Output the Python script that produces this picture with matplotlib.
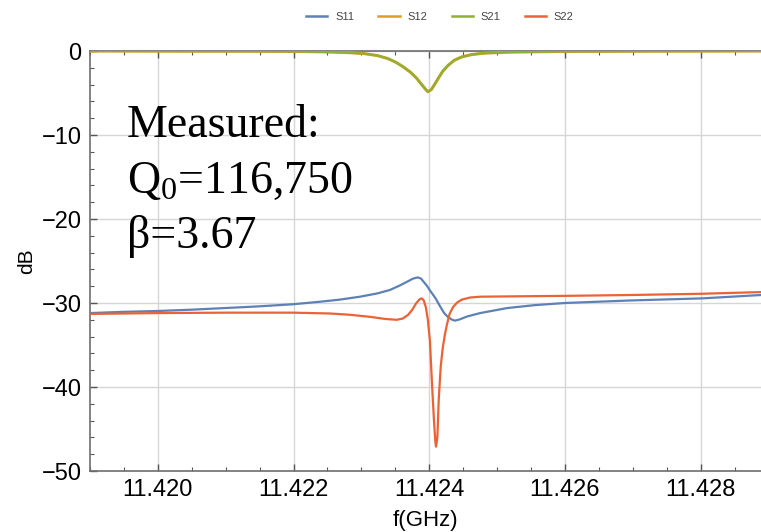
import matplotlib
matplotlib.use("Agg")
import matplotlib.pyplot as plt
from matplotlib.ticker import MultipleLocator, FuncFormatter
from matplotlib.lines import Line2D

plt.rcParams['font.family'] = ['Liberation Sans', 'DejaVu Sans']
plt.rcParams['mathtext.fontset'] = 'custom'
plt.rcParams['mathtext.rm'] = 'Liberation Serif'
plt.rcParams['mathtext.it'] = 'Liberation Serif:italic'

# Frequency sweep (GHz) and measured S-parameters (dB)
s11_f = [11.41900, 11.41950, 11.42000, 11.42049, 11.42099, 11.42149, 11.42199,
         11.42239, 11.42268, 11.42298, 11.42324, 11.42342, 11.42357, 11.42369,
         11.42376, 11.42383, 11.42388, 11.42392, 11.42397, 11.42401, 11.42409,
         11.42416, 11.42422, 11.42428, 11.42434, 11.42438, 11.42445, 11.42456,
         11.42475, 11.42515, 11.42556, 11.42600, 11.42696, 11.42802, 11.42889]
s11_db = [-31.2, -31.05, -30.95, -30.8, -30.6, -30.4, -30.15,
          -29.85, -29.6, -29.25, -28.85, -28.45, -27.9, -27.4,
          -27.1, -26.95, -27.1, -27.5, -28.0, -28.5, -29.4,
          -30.4, -31.2, -31.7, -32.0, -32.1, -31.95, -31.6,
          -31.2, -30.6, -30.25, -30.0, -29.7, -29.45, -29.05]

s21_f = [11.41900, 11.42136, 11.42209, 11.42254, 11.42283, 11.42305, 11.42324,
         11.42339, 11.42351, 11.42361, 11.42372, 11.42381, 11.42388, 11.42394,
         11.42398, 11.42403, 11.42407, 11.42413, 11.42420, 11.42428, 11.42437,
         11.42448, 11.42463, 11.42482, 11.42519, 11.42593, 11.42726, 11.42889]
s21_db = [0.0, -0.03, -0.06, -0.12, -0.2, -0.32, -0.55,
          -0.9, -1.35, -1.85, -2.5, -3.2, -3.9, -4.5,
          -4.85, -4.6, -4.1, -3.3, -2.4, -1.7, -1.1,
          -0.7, -0.42, -0.25, -0.13, -0.06, -0.02, 0.0]

s12_f = list(s21_f)
s12_db = list(s21_db)

s22_f = [11.41900, 11.42000, 11.42099, 11.42199, 11.42254, 11.42283, 11.42313,
         11.42335, 11.42352, 11.42361, 11.42369, 11.42375, 11.42381, 11.42386,
         11.42389, 11.42392, 11.42395, 11.42398, 11.42401, 11.42404, 11.42407,
         11.42409, 11.42410, 11.42412, 11.42414, 11.42417, 11.42420, 11.42423,
         11.42426, 11.42430, 11.42435, 11.42441, 11.42448, 11.42460, 11.42475,
         11.42534, 11.42600, 11.42696, 11.42802, 11.42889]
s22_db = [-31.3, -31.2, -31.15, -31.15, -31.25, -31.4, -31.65,
          -31.9, -32.0, -31.85, -31.4, -30.8, -30.0, -29.55,
          -29.45, -29.7, -30.5, -32.0, -34.5, -39.5, -44.0,
          -46.5, -47.1, -46.0, -41.5, -37.5, -35.3, -33.8,
          -32.6, -31.3, -30.5, -29.95, -29.6, -29.35, -29.25,
          -29.2, -29.15, -29.05, -28.9, -28.7]

labels = ['S11', 'S12', 'S21', 'S22']
colors = ['#5E81B5', '#E19C24', '#8FB032', '#EB6235']

fig = plt.figure(figsize=(7.61, 5.32), dpi=100)
ax = fig.add_axes([90/761, 1-471/532, 1-90/761, (471-51)/532])

lw = 1.6
ax.plot(s11_f, s11_db, color=colors[0], lw=lw, zorder=3, solid_joinstyle='round')
ax.plot(s12_f, s12_db, color=colors[1], lw=lw + 0.6, zorder=3, solid_joinstyle='round')
ax.plot(s21_f, s21_db, color=colors[2], lw=lw, zorder=4, solid_joinstyle='round')
ax.plot(s22_f, s22_db, color=colors[3], lw=lw, zorder=5, solid_joinstyle='round')

ax.set_xlim(11.419, 11.42889)
ax.set_ylim(-50, 0)

ax.xaxis.set_major_locator(MultipleLocator(0.002))
ax.xaxis.set_minor_locator(MultipleLocator(0.0005))
ax.yaxis.set_major_locator(MultipleLocator(10))
ax.yaxis.set_minor_locator(MultipleLocator(2))
ax.xaxis.set_major_formatter(FuncFormatter(lambda v, p: f"{v:.3f}"))
ax.yaxis.set_major_formatter(FuncFormatter(
    lambda v, p: f"\u2212{abs(int(round(v)))}" if v < -0.5 else "0"))

ax.grid(True, which='major', color='#d6d6d6', lw=1.0, zorder=0)
ax.set_axisbelow(True)

for s in ['left', 'bottom', 'top']:
    ax.spines[s].set_color('#6e6e6e')
    ax.spines[s].set_linewidth(1.2)
ax.spines['right'].set_visible(False)

ax.tick_params(which='both', direction='in', top=True, right=False, color='#555555')
ax.tick_params(which='major', length=5, width=1.0, labelsize=17, pad=6)
ax.tick_params(which='minor', length=3, width=0.8)
ax.tick_params(axis='x', labeltop=False)

ax.set_xlabel('f(GHz)', fontsize=16, labelpad=6)
ax.set_ylabel('dB', fontsize=15, labelpad=4)

handles = [Line2D([], [], color=c, lw=1.8) for c in colors]
fig.legend(handles, labels, loc='center', bbox_to_anchor=(0.578, 1 - 17/532),
           ncol=4, frameon=False, fontsize=8, handlelength=1.9,
           columnspacing=2.2, handletextpad=0.7, labelcolor='#444444')

serif = dict(family='Liberation Serif', fontsize=33, color='black', va='baseline')
fig.text(127/761, 1 - 137/532, 'Measured:', **serif)
fig.text(127/761, 1 - 193/532, r'Q$_\mathrm{0}$=116,750', **serif)
fig.text(127/761, 1 - 248/532, '\u03b2=3.67', **serif)

fig.savefig('out.png', dpi=100)
